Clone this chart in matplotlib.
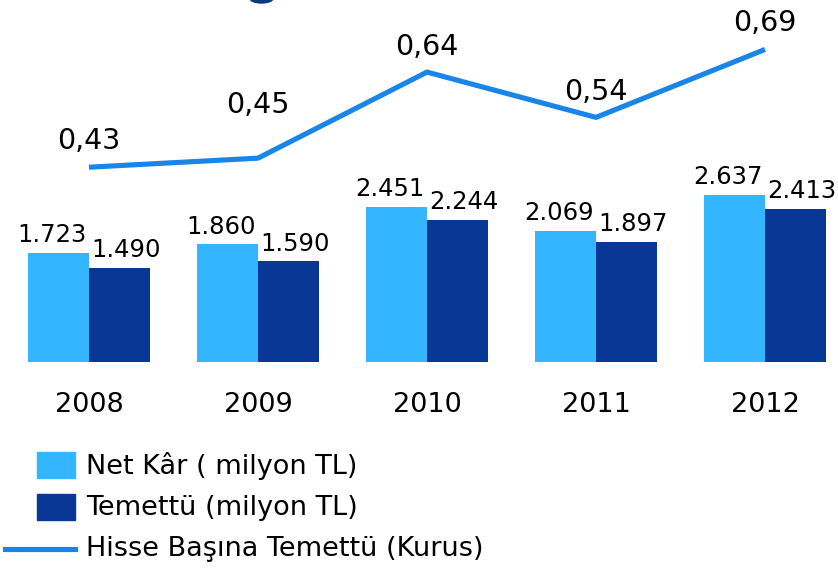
import matplotlib.pyplot as plt
import matplotlib.patches as mpatches
import numpy as np

years = ['2008', '2009', '2010', '2011', '2012']
net_kar = [1723, 1860, 2451, 2069, 2637]
temettu = [1490, 1590, 2244, 1897, 2413]
hisse_basina = [0.43, 0.45, 0.64, 0.54, 0.69]

net_kar_labels = ['1.723', '1.860', '2.451', '2.069', '2.637']
temettu_labels = ['1.490', '1.590', '2.244', '1.897', '2.413']
hisse_labels = ['0,43', '0,45', '0,64', '0,54', '0,69']

light = '#33b5ff'
dark = '#083796'
line_col = '#1a85e8'

plt.rcParams['font.family'] = ['DejaVu Sans']

W, H = 838, 569
fig = plt.figure(figsize=(W / 100, H / 100), dpi=100)

# bar axes: baseline at y=362 px from top, top at 0
base = 362
ax = fig.add_axes([0, (H - base) / H, 1, base / H])
ax.set_xlim(-89 / 169, (W - 89) / 169)
ax.set_ylim(0, base / 0.0634)
ax.axis('off')

x = np.arange(len(years))
bw = 0.36
ax.bar(x - bw / 2, net_kar, bw, color=light)
ax.bar(x + bw / 2, temettu, bw, color=dark)

for i in range(len(years)):
    ax.annotate(net_kar_labels[i], (x[i] - bw / 2, net_kar[i]), xytext=(-5, 4),
                textcoords='offset points', ha='center', va='bottom', fontsize=17.5)
    ax.annotate(temettu_labels[i], (x[i] + bw / 2, temettu[i]), xytext=(5, 4),
                textcoords='offset points', ha='center', va='bottom', fontsize=17.5)
    ax.annotate(years[i], (x[i], 0), xytext=(0, -31), textcoords='offset points',
                ha='center', va='center', fontsize=19.5)

ax2 = ax.twinx()
ax2.set_ylim(0, base / 453)
ax2.axis('off')
ax2.plot(x, hisse_basina, color=line_col, lw=3.7, solid_capstyle='butt')
label_off = [9, 28, 8, 8, 9]
for i in range(len(years)):
    ax2.annotate(hisse_labels[i], (x[i], hisse_basina[i]), xytext=(0, label_off[i]),
                 textcoords='offset points', ha='center', va='bottom', fontsize=20.5)

# cut-off title fragment at the top edge
fig.add_artist(mpatches.Ellipse((261.5 / W, 1 + 1.5 / H), 23 / W, 9 / H, color='#0a3a80'))

# legend drawn by hand
fig.add_artist(mpatches.Rectangle((37 / W, 1 - 478 / H), 38 / W, 26 / H, color=light))
fig.add_artist(mpatches.Rectangle((37 / W, 1 - 520 / H), 38 / W, 26 / H, color=dark))
fig.add_artist(plt.Line2D([5 / W, 75 / W], [1 - 549 / H, 1 - 549 / H], color=line_col, lw=3.7))
fig.text(86 / W, 1 - 466 / H, 'Net Kâr ( milyon TL)', va='center', fontsize=19.5)
fig.text(86 / W, 1 - 508 / H, 'Temettü (milyon TL)', va='center', fontsize=19.5)
fig.text(86 / W, 1 - 549 / H, 'Hisse Başına Temettü (Kurus)', va='center', fontsize=19.5)

plt.savefig('out.png', dpi=100)
